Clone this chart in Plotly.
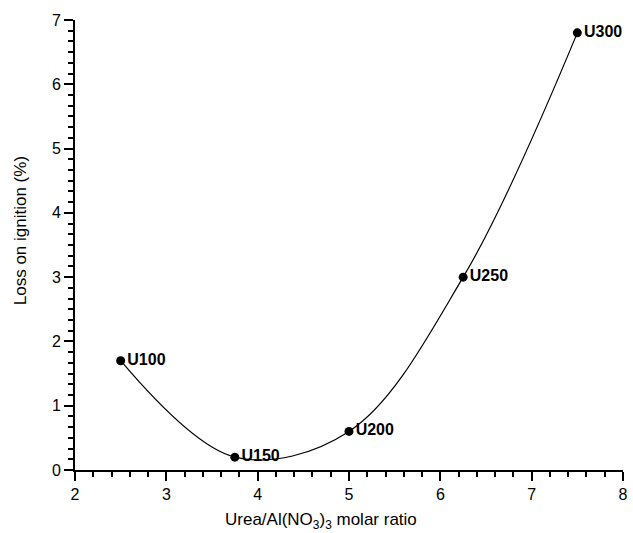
import plotly.graph_objects as go

ratio = [2.5, 3.75, 5.0, 6.25, 7.5]
loi = [1.7, 0.2, 0.6, 3.0, 6.8]
labels = ["U100", "U150", "U200", "U250", "U300"]

FONT = "Arial, Liberation Sans, Helvetica"

fig = go.Figure()
fig.add_trace(go.Scatter(x=ratio, y=loi, mode="lines",
                         line=dict(shape="spline", smoothing=1.0, color="black", width=1.2),
                         hoverinfo="skip", showlegend=False))
fig.add_trace(go.Scatter(x=ratio, y=loi, mode="markers+text", text=labels,
                         textposition="middle right",
                         textfont=dict(family=FONT, size=16, color="black", weight="bold"),
                         marker=dict(color="black", size=9), showlegend=False,
                         cliponaxis=False))

axis_common = dict(showline=True, linecolor="black", linewidth=2, ticks="outside",
                   ticklen=9, tickwidth=2, tickcolor="black", showgrid=False, zeroline=False,
                   tickfont=dict(family=FONT, size=16, color="black"),
                   mirror=False)
fig.update_layout(
    width=633, height=533,
    margin=dict(l=75, r=5, t=20, b=63),
    plot_bgcolor="white", paper_bgcolor="white",
    xaxis=dict(range=[2, 8], dtick=1, tick0=2,
               minor=dict(ticks="outside", ticklen=5, tickwidth=1.5, tickcolor="black", dtick=0.2, showgrid=False),
               **axis_common),
    yaxis=dict(range=[0, 7], dtick=1, tick0=0,
               minor=dict(ticks="outside", ticklen=5, tickwidth=1.5, tickcolor="black", dtick=1/6, showgrid=False),
               **axis_common),
    annotations=[
        dict(text="Urea/Al(NO<sub>3</sub>)<sub>3</sub> molar ratio", xref="paper", yref="paper",
             x=0.448, y=-0.084, xanchor="center", yanchor="top", showarrow=False,
             font=dict(family=FONT, size=17, color="black")),
        dict(text="Loss on ignition (%)", xref="paper", yref="paper", textangle=-90,
             x=-0.1, y=0.531, xanchor="center", yanchor="middle", showarrow=False,
             font=dict(family=FONT, size=17, color="black")),
    ],
)
fig.write_html("out.html", config={"displayModeBar": False},
               post_script="document.body.style.margin='0';document.body.style.overflow='hidden';")
